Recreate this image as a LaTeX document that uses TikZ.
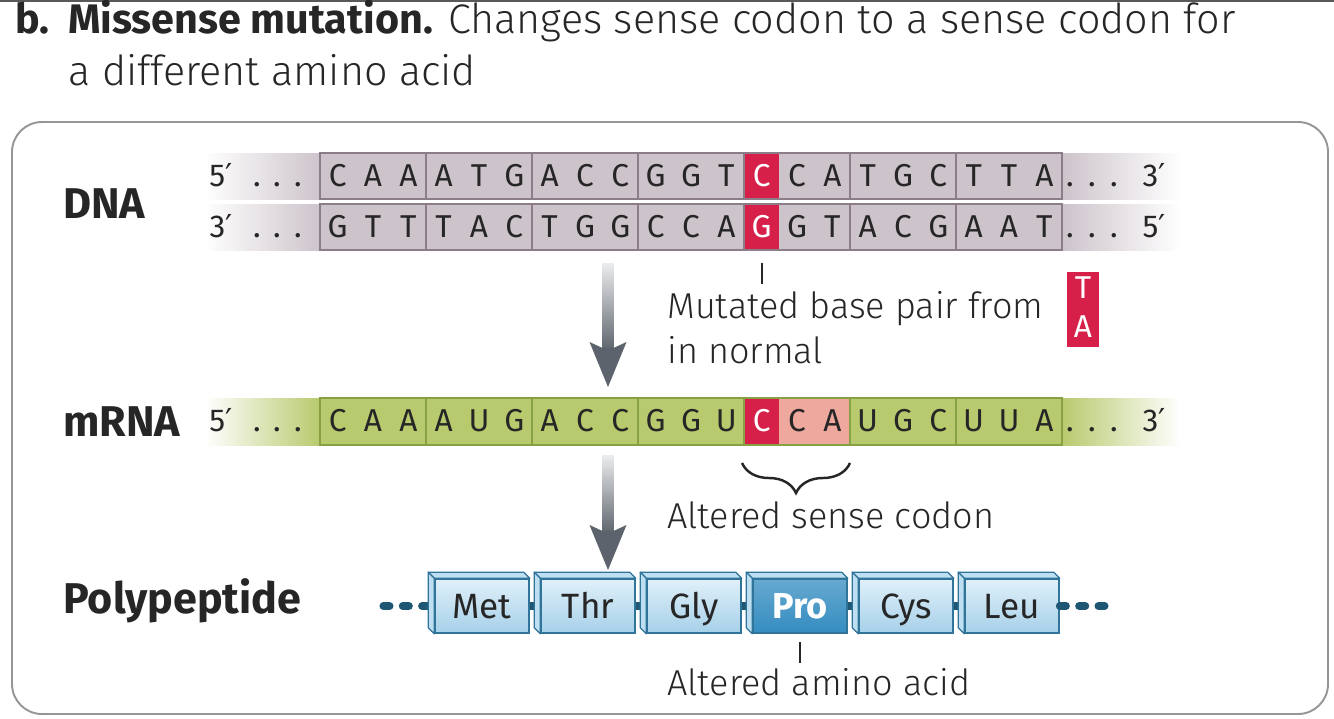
\documentclass[tikz,border=0pt]{standalone}
\usepackage{fontspec}
\setmainfont{Fira Sans Light}[BoldFont={Fira Sans Bold}]
\newfontfamily\seqfont{Fira Sans}
\newfontfamily\primefont{DejaVu Sans}
\usetikzlibrary{arrows.meta,positioning,calc,decorations.pathreplacing}
\definecolor{InkGray}{RGB}{38,38,38}
\definecolor{FrameGray}{RGB}{150,150,150}
\definecolor{DnaFill}{RGB}{205,196,203}
\definecolor{DnaLine}{RGB}{140,126,137}
\definecolor{RnaFill}{RGB}{184,202,110}
\definecolor{RnaLine}{RGB}{136,160,68}
\definecolor{MutRed}{RGB}{214,32,74}
\definecolor{CodonPink}{RGB}{238,168,158}
\definecolor{ArrowGray}{RGB}{92,99,108}
\definecolor{PepLine}{RGB}{48,116,154}
\definecolor{PepDark}{RGB}{30,86,116}
\definecolor{PepTop}{RGB}{224,240,249}
\definecolor{PepBottom}{RGB}{166,208,233}
\definecolor{PepSide}{RGB}{190,223,241}
\definecolor{PepHot}{RGB}{52,140,192}
\tikzset{
  nuc/.style={text=InkGray,font=\seqfont\fontsize{18}{20}\selectfont,anchor=base,
    inner sep=0pt},
  mutnuc/.style={nuc,text=white},
  dnacell/.style={draw=DnaLine,line width=0.7pt,minimum width=2.12cm,
    minimum height=0.92cm,inner sep=0pt},
  rnacell/.style={draw=RnaLine,line width=0.7pt,minimum width=2.12cm,
    minimum height=0.94cm,inner sep=0pt},
  rowname/.style={font=\fontsize{24.5}{28}\selectfont\bfseries,text=InkGray,
    anchor=base west,inner sep=0pt},
  note/.style={font=\fontsize{20.5}{24}\selectfont,text=InkGray,
    anchor=base west,inner sep=0pt},
  aabox/.style={draw=PepLine,line width=0.9pt,top color=PepTop,
    bottom color=PepBottom,minimum width=1.88cm,minimum height=1.08cm,
    inner sep=0pt,text height=17pt,text depth=3pt,text=InkGray,
    font=\seqfont\fontsize{20}{24}\selectfont},
  aahot/.style={aabox,top color=PepHot!75!white,bottom color=PepHot,
    text=white,font=\fontsize{20.5}{24}\selectfont\bfseries},
  bevel/.style={fill=PepSide,draw=PepLine,line width=0.7pt,line join=round},
  pepbond/.style={PepDark,line width=4.5pt},
  tick/.style={InkGray,line width=1.2pt},
  flowhead/.style={fill=ArrowGray}
}

\begin{document}
\begin{tikzpicture}[x=0.02cm,y=-0.02cm]
\useasboundingbox (0,0) rectangle (1334,718);
\fill[black!65] (0,0) rectangle (1334,2);

% heading
\node[anchor=base west,inner sep=0pt,text=InkGray,
  font=\fontsize{23.5}{28}\selectfont] (head1) at (15,33)
  {\textbf{b.\hspace{0.45em}Missense mutation.} Changes sense codon to a sense codon for};
\node[anchor=base west,inner sep=0pt,text=InkGray,
  font=\fontsize{23.5}{28}\selectfont] (head2) at (68,85) {a different amino acid};

% panel
\draw[FrameGray,line width=1.1pt,rounded corners=0.6cm] (12,122) rectangle (1328,714);

% row names
\node[rowname] (dnaname) at (63,218) {DNA};
\node[rowname] (rnaname) at (63,436) {mRNA};
\node[rowname] (pepname) at (63,613) {Polypeptide};

% DNA strands
\foreach \top in {153,204}{
  \shade[left color=white,right color=DnaFill] (205,\top) rectangle (320,\top+46);
  \fill[DnaFill] (320,\top) rectangle (1062,\top+46);
  \shade[left color=DnaFill,right color=white] (1062,\top) rectangle (1180,\top+46);
  \fill[MutRed] (744,\top) rectangle (779.33,\top+46);
}
\foreach \i in {1,...,7}{
  \node[dnacell] (dnaT\i) at ({320+106*(\i-0.5)},176) {};
  \node[dnacell] (dnaB\i) at ({320+106*(\i-0.5)},227) {};
}
\foreach \b [count=\k] in {C,A,A,A,T,G,A,C,C,G,G,T,C,C,A,T,G,C,T,T,A}{
  \ifnum\k=13 \else
  \node[nuc] (ntT\k) at ({320+35.333*(\k-0.5)},186) {\b};
  \fi
}
\foreach \b [count=\k] in {G,T,T,T,A,C,T,G,G,C,C,A,G,G,T,A,C,G,A,A,T}{
  \ifnum\k=13 \else
  \node[nuc] (ntB\k) at ({320+35.333*(\k-0.5)},237) {\b};
  \fi
}
\node[mutnuc] (ntT13) at (761.67,186) {C};
\node[mutnuc] (ntB13) at (761.67,237) {G};
\node[nuc] (endT5) at (221,186) {5{\primefont ′}};
\node[nuc] (endT3) at (1154,186) {3{\primefont ′}};
\node[nuc] (endB3) at (221,237) {3{\primefont ′}};
\node[nuc] (endB5) at (1154,237) {5{\primefont ′}};
\foreach \x [count=\d] in {257,277,298,1070,1092,1114}{
  \node[nuc] (dotT\d) at (\x,186) {.};
  \node[nuc] (dotB\d) at (\x,237) {.};
}

% mutation note
\coordinate (mutmark) at (761.67,263);
\draw[tick] (mutmark) -- ++(0,21);
\node[note] (mutnote) at (667,318) {Mutated base pair from};
\node[note] (mutnote2) at (667,363) {in normal};
\node[fill=MutRed,minimum width=0.64cm,minimum height=1.5cm,inner sep=0pt]
  (oldpair) at (1083,309.5) {};
\node[mutnuc] (oldT) at (oldpair.center|-0,298) {T};
\node[mutnuc] (oldA) at (oldpair.center|-0,337) {A};

% transcription arrow
\coordinate (flowA) at (608,263);
\coordinate (flowAtip) at (608,387);
\shade[top color=ArrowGray!12,middle color=ArrowGray!75,bottom color=ArrowGray]
  ($(flowA)+(-5.5,0)$) rectangle ($(flowAtip)+(5.5,-36)$);
\fill[flowhead] (flowAtip) -- ++(-18.5,-45) -- ++(13,6) -- ++(11,0) -- ++(13,-6) -- cycle;

% mRNA
\shade[left color=white,right color=RnaFill] (205,398) rectangle (320,445);
\fill[RnaFill] (320,398) rectangle (1062,445);
\shade[left color=RnaFill,right color=white] (1062,398) rectangle (1180,445);
\fill[MutRed] (744,398) rectangle (779.33,445);
\fill[CodonPink] (779.33,398) rectangle (850,445);
\foreach \i in {1,...,7}
  \node[rnacell] (rna\i) at ({320+106*(\i-0.5)},421.5) {};
\foreach \b [count=\k] in {C,A,A,A,U,G,A,C,C,G,G,U,C,C,A,U,G,C,U,U,A}{
  \ifnum\k=13 \else
  \node[nuc] (ntR\k) at ({320+35.333*(\k-0.5)},431) {\b};
  \fi
}
\node[mutnuc] (ntR13) at (761.67,431) {C};
\node[nuc] (endR5) at (221,431) {5{\primefont ′}};
\node[nuc] (endR3) at (1154,431) {3{\primefont ′}};
\foreach \x [count=\d] in {257,277,298,1070,1092,1114}
  \node[nuc] (dotR\d) at (\x,431) {.};

% codon brace
\draw[decorate,decoration={brace,amplitude=0.6cm},InkGray,line width=1.4pt]
  (850,463) -- (742,463);
\node[note] (codonnote) at (667,528) {Altered sense codon};

% translation arrow
\coordinate (flowB) at (608,455);
\coordinate (flowBtip) at (608,570);
\shade[top color=ArrowGray!12,middle color=ArrowGray!75,bottom color=ArrowGray]
  ($(flowB)+(-5.5,0)$) rectangle ($(flowBtip)+(5.5,-36)$);
\fill[flowhead] (flowBtip) -- ++(-18.5,-45) -- ++(13,6) -- ++(11,0) -- ++(13,-6) -- cycle;

% polypeptide
\foreach \aa/\look [count=\i] in {Met/aabox,Thr/aabox,Gly/aabox,Pro/aahot,Cys/aabox,Leu/aabox}
  \node[\look] (aa\i) at ({320+106*(\i+0.5)+3},606) {\aa};
\foreach \i/\j in {1/2,2/3,3/4,4/5,5/6}
  \draw[pepbond] (aa\i.east) -- ($(aa\j.west)+(-6,0)$);
\draw[pepbond,line cap=round,dash pattern=on 3.5pt off 7.5pt] ($(aa1.west)+(-6,0)$) -- (373,606);
\draw[pepbond,line cap=round,dash pattern=on 3.5pt off 7.5pt] (aa6.east) -- (1106,606);
\foreach \i in {1,...,6}{
  \filldraw[bevel] (aa\i.north west) -- ++(-6,-6) -- ($(aa\i.north east)+(-6,-6)$)
    -- (aa\i.north east) -- cycle;
  \filldraw[bevel] (aa\i.north west) -- ++(-6,-6) -- ($(aa\i.south west)+(-6,-6)$)
    -- (aa\i.south west) -- cycle;
}
\draw[tick] ($(aa4.south)+(0,8)$) -- ++(0,21);
\node[note] (aanote) at (667,695) {Altered amino acid};

\end{tikzpicture}
\end{document}
